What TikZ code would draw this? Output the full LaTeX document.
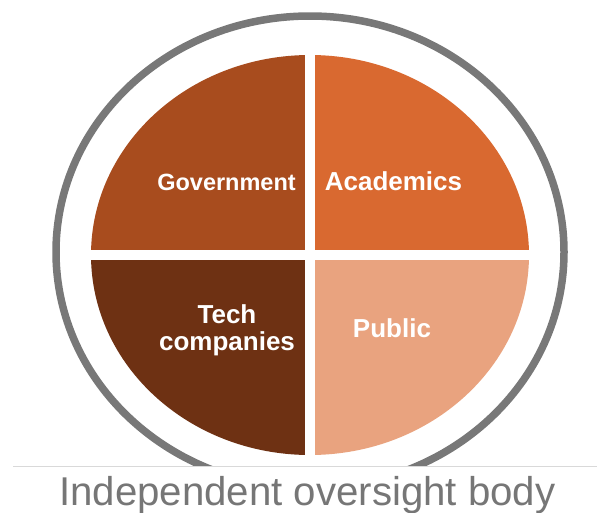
\documentclass[tikz,border=0pt]{standalone}
\usepackage{fontspec}
\setmainfont{Liberation Sans}
\usepackage{xcolor}
\usetikzlibrary{positioning}

\definecolor{govt}{RGB}{168,76,30}
\definecolor{acad}{RGB}{217,105,48}
\definecolor{tech}{RGB}{110,49,19}
\definecolor{pub}{RGB}{233,163,127}
\definecolor{ringgray}{RGB}{120,120,120}
\definecolor{rulegray}{RGB}{217,217,217}
\definecolor{bodygray}{RGB}{118,118,118}

\tikzset{
	lbl/.style={text=white, font=\bfseries\fontsize{26}{27}\selectfont,
		align=center, anchor=base, inner sep=0pt}
}

\begin{document}
\begin{tikzpicture}[x=1pt, y=-1pt]
			\useasboundingbox (0,0) rectangle (597,512);
			%% outer ring, cut at the rule
			\begin{scope}
				\clip (0,0) rectangle (597,466);
				\draw [ringgray, line width=7.5pt] (310,252) ellipse (254 and 236);
			\end{scope}
			\draw [rulegray, line width=1pt] (13,466.5) -- (597,466.5);
			%% four quarters
			\begin{scope}
				\clip (310,255) ellipse (219 and 200);
				\fill [govt] (0,0) rectangle (304.75,249.75);
				\fill [acad] (315.25,0) rectangle (597,249.75);
				\fill [tech] (0,260.25) rectangle (304.75,512);
				\fill [pub] (315.25,260.25) rectangle (597,512);
			\end{scope}
			
			\path
			(226.5,190.5) node [lbl, font=\bfseries\fontsize{23.5}{27}\selectfont] (gov) {Government}
			(393.5,190.5) node [lbl] (aca) {Academics}
			(227,350) node [lbl] (tec) {Tech\\companies}
			(392,337) node [lbl] (pbl) {Public};
			
			\node [text=bodygray, font=\fontsize{40.2}{41}\selectfont,
			anchor=base west, inner sep=0pt] (body) at (59,505.7)
			{Independent oversight body};
		\end{tikzpicture}
\end{document}
